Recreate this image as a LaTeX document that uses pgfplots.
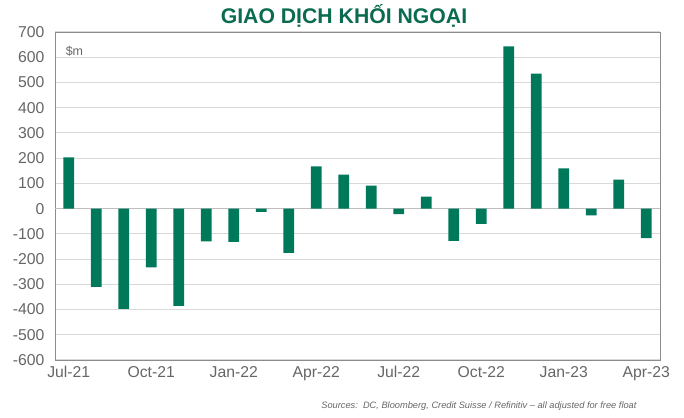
\documentclass[border=0pt]{standalone}
\usepackage{pgfplots}
\pgfplotsset{compat=1.18}
\usepackage{fontspec}
\setmainfont{Liberation Sans}
\definecolor{barc}{HTML}{00785A}
\definecolor{titc}{HTML}{0B6B50}
\definecolor{tickc}{HTML}{666666}
\definecolor{gridc}{HTML}{D9D9D9}
\definecolor{framec}{HTML}{8C8C8C}
\pgfplotstableread{
x y
0 203
1 -310
2 -397
3 -233
4 -385
5 -130
6 -132
7 -13
8 -175
9 167
10 135
11 91
12 -22
13 48
14 -128
15 -60
16 643
17 535
18 159
19 -27
20 115
21 -117
}\datatab
\begin{document}
\begin{tikzpicture}
\useasboundingbox (0,0) rectangle (684bp,418bp);
\begin{axis}[
  at={(55bp,58bp)}, anchor=south west,
  scale only axis, width=605bp, height=328bp,
  xmin=-0.5, xmax=21.5, ymin=-600, ymax=700,
  ytick={-600,-500,...,700},
  xtick={0,3,6,9,12,15,18,21},
  xticklabels={Jul-21,Oct-21,Jan-22,Apr-22,Jul-22,Oct-22,Jan-23,Apr-23},
  /pgf/number format/assume math mode=true,
  yticklabel style={font=\fontsize{15.8}{16}\selectfont, text=tickc, xshift=-7bp},
  xticklabel style={font=\fontsize{15.8}{16}\selectfont, text=tickc, yshift=-3bp},
  major tick length=0pt,
  ymajorgrids, grid style={gridc, line width=1.1pt},
  axis line style={framec, line width=1pt},
  clip=false,
]
\draw[gridc!70!gray, line width=1.1pt] (axis cs:-0.5,0) -- (axis cs:21.5,0);
\addplot[ybar, bar width=0.39, fill=barc, draw=none, bar shift=0pt] table[x=x,y=y]{\datatab};
\node[anchor=west, text=tickc, font=\fontsize{12.5}{13}\selectfont] at (rel axis cs:0.012,0.94) {\$m};
\end{axis}
\node[text=titc, font=\fontsize{21.3}{22}\selectfont\bfseries] at (344bp,402bp) {GIAO DỊCH KHỐI NGOẠI};
\node[anchor=east, text=tickc, font=\fontsize{9.3}{10}\selectfont\itshape] at (640bp,12bp) {Sources:\ \ DC, Bloomberg, Credit Suisse / Refinitiv – all adjusted for free float};
\end{tikzpicture}
\end{document}
